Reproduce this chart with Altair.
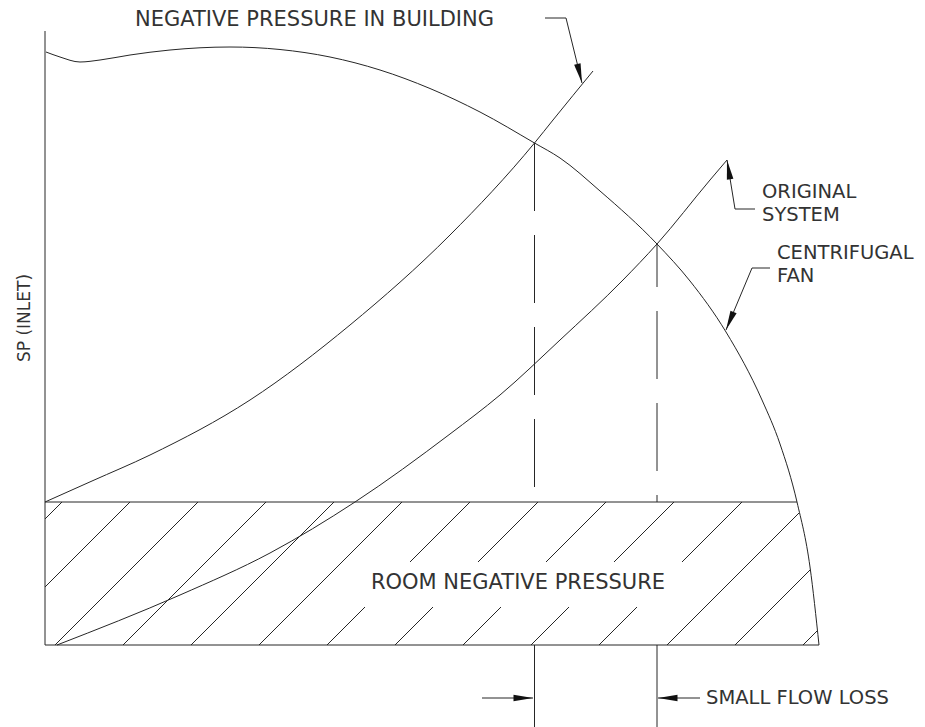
import altair as alt
import pandas as pd
import numpy as np

# ---- curves, in drawing units (flow q to the right, static pressure p upward) ----
fan_q = [1, 15, 35, 55, 85, 125, 185, 235, 285, 335, 385, 435, 489.5, 515, 555, 612, 645, 681, 717, 735, 752, 765, 774]
fan_p = [593, 588, 583, 585, 590, 595, 598, 595.5, 588, 575, 556.5, 533, 502, 487, 454, 401, 364, 313, 245, 201, 143, 78, 0]

bld_q = [0, 47, 105, 205, 305, 405, 489.5, 508, 548]
bld_p = [143, 164, 190, 245, 320, 410, 502, 525, 574]

orig_q = [12, 135, 225, 310, 405, 455, 515, 578, 612, 665, 682]
orig_p = [0, 50, 92, 143, 211, 250, 305, 365, 401, 465, 485]

room_p = 143          # room negative pressure level
axis_top = 614        # top of SP axis
op_q = [489.5, 612]   # operating points (flow)
op_p = [502, 401]     # operating points (pressure)
page_bottom = -82

# leader polylines (q, p) points
lead_bld = [(500, 627), (521, 627), (537, 562)]
lead_orig = [(710, 436), (690, 436), (682, 485)]
lead_fan = [(725, 377), (707, 377), (681, 315)]
lead_loss_l = [(437, -53), (488, -53)]
lead_loss_r = [(655, -53), (613, -53)]

# labels
labels_left = ["ORIGINAL", "SYSTEM", "CENTRIFUGAL", "FAN", "SMALL FLOW LOSS"]
labels_left_q = [717, 717, 732, 732, 661]
labels_left_p = [453, 430, 392, 369, -53]
top_label = "NEGATIVE PRESSURE IN BUILDING"
top_label_q, top_label_p = 90, 625
room_label = "ROOM NEGATIVE PRESSURE"
room_label_q, room_label_p = 473, 62
y_title = "SP (INLET)"
y_title_q, y_title_p = -20, 327

# ---- build tables ----
curves = pd.concat([
    pd.DataFrame({"q": fan_q, "p": fan_p, "curve": "fan"}),
    pd.DataFrame({"q": bld_q, "p": bld_p, "curve": "building"}),
    pd.DataFrame({"q": orig_q, "p": orig_p, "curve": "original"}),
])

fan_end_q = fan_q[-1]
room_end_q = fan_q[fan_p.index(room_p)]

segs = [
    (0, 0, 0, axis_top),
    (0, room_p, room_end_q, room_p),
    (0, 0, fan_end_q, 0),
    (op_q[0], 0, op_q[0], page_bottom),
    (op_q[1], 0, op_q[1], page_bottom),
]
for poly in [lead_bld, lead_orig, lead_fan, lead_loss_l, lead_loss_r]:
    for a, b in zip(poly[:-1], poly[1:]):
        segs.append((a[0], a[1], b[0], b[1]))
seg_df = pd.DataFrame(segs, columns=["q", "p", "q2", "p2"])

dash_a = pd.DataFrame({"q": [op_q[0]], "p": [op_p[0]], "q2": [op_q[0]], "p2": [room_p]})
dash_b = pd.DataFrame({"q": [op_q[1]], "p": [op_p[1]], "q2": [op_q[1]], "p2": [room_p]})

# hatch of the room negative pressure band, 45 degree lines clipped by the fan curve
def fan_right(p):
    fp = np.array(fan_p[-3:][::-1], float)
    fq = np.array(fan_q[-3:][::-1], float)
    return np.interp(p, fp, fq)

pp = np.linspace(0, room_p, 1145)
hrows = []
for qt in np.arange(17, 1000, 68):
    qq = qt - room_p + pp
    ok = (qq >= 0) & (qq <= fan_right(pp))
    mid_q = qt - room_p + 60.5
    if 305 <= mid_q <= 655:
        ok &= ~((pp > 38) & (pp < 83))
    idx = np.flatnonzero(ok)
    if len(idx) < 2:
        continue
    for s in np.split(idx, np.where(np.diff(idx) != 1)[0] + 1):
        if len(s) < 2:
            continue
        hrows.append({"q": qq[s[0]], "p": pp[s[0]], "q2": qq[s[-1]], "p2": pp[s[-1]]})
hatch_df = pd.DataFrame(hrows)

arrow_df = pd.DataFrame({
    "q": [lead_bld[-1][0], lead_orig[-1][0], lead_fan[-1][0], lead_loss_l[-1][0], lead_loss_r[-1][0]],
    "p": [lead_bld[-1][1], lead_orig[-1][1], lead_fan[-1][1], lead_loss_l[-1][1], lead_loss_r[-1][1]],
})
def ang(poly):
    (x0, y0), (x1, y1) = poly[-2], poly[-1]
    dx, dy = x1 - x0, -(y1 - y0)  # screen direction
    return float(np.degrees(np.arctan2(dx, -dy)) % 360)
arrow_df["ang"] = [ang(lead_bld), ang(lead_orig), ang(lead_fan), ang(lead_loss_l), ang(lead_loss_r)]

txt_left = pd.DataFrame({"t": labels_left, "q": labels_left_q, "p": labels_left_p})
txt_top = pd.DataFrame({"t": [top_label], "q": [top_label_q], "p": [top_label_p]})
txt_room = pd.DataFrame({"t": [room_label], "q": [room_label_q], "p": [room_label_p]})
txt_y = pd.DataFrame({"t": [y_title], "q": [y_title_q], "p": [y_title_p]})

# ---- chart ----
INK = "#262626"
TXT = "#333333"
FONT = "DejaVu Sans"
X = alt.X("q:Q", scale=alt.Scale(domain=[-37, 872], nice=False, zero=False), axis=None)
Y = alt.Y("p:Q", scale=alt.Scale(domain=[-82, 637], nice=False, zero=False), axis=None)

curve_layer = alt.Chart(curves).mark_line(interpolate="monotone", color=INK, strokeWidth=1).encode(
    x=X, y=Y, detail="curve:N")
rule_layer = alt.Chart(seg_df).mark_rule(color=INK, strokeWidth=1).encode(
    x=X, y=Y, x2="q2:Q", y2="p2:Q")
hatch_layer = alt.Chart(hatch_df).mark_rule(color=INK, strokeWidth=1).encode(
    x=X, y=Y, x2="q2:Q", y2="p2:Q")
dash_layer_a = alt.Chart(dash_a).mark_rule(color=INK, strokeWidth=1, strokeDash=[68, 24]).encode(
    x=X, y=Y, x2="q2:Q", y2="p2:Q")
dash_layer_b = alt.Chart(dash_b).mark_rule(color=INK, strokeWidth=1, strokeDash=[68, 24],
                                           strokeDashOffset=25).encode(
    x=X, y=Y, x2="q2:Q", y2="p2:Q")
arrow_layer = alt.Chart(arrow_df).mark_point(
    shape="M0,0L0.34,2L-0.34,2Z", filled=True, size=380, color="#111111", opacity=1, strokeWidth=0
).encode(x=X, y=Y, angle=alt.Angle("ang:Q", scale=None))
text_left = alt.Chart(txt_left).mark_text(
    align="left", baseline="middle", font=FONT, fontSize=19.5, color=TXT).encode(x=X, y=Y, text="t:N")
text_top = alt.Chart(txt_top).mark_text(
    align="left", baseline="middle", font=FONT, fontSize=21, color=TXT).encode(x=X, y=Y, text="t:N")
text_room = alt.Chart(txt_room).mark_text(
    align="center", baseline="middle", font=FONT, fontSize=21, color=TXT).encode(x=X, y=Y, text="t:N")
text_y = alt.Chart(txt_y).mark_text(
    align="center", baseline="middle", font=FONT, fontSize=17, angle=270, color=TXT).encode(x=X, y=Y, text="t:N")

chart = alt.layer(
    hatch_layer, rule_layer, dash_layer_a, dash_layer_b, curve_layer, arrow_layer,
    text_left, text_top, text_room, text_y
).properties(width=909, height=719, padding=0, background="white").configure_view(stroke=None)

chart.save("out.html", embed_options={"renderer": "svg", "actions": False})
